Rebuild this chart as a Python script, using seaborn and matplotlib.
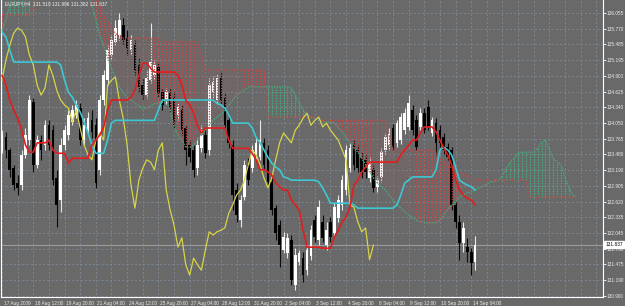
import numpy as np
import matplotlib
matplotlib.use("Agg")
import matplotlib.pyplot as plt
import matplotlib.transforms as mtransforms
import seaborn as sns

# EURJPY H4, 17 Aug - 14 Sep 2009, Ichimoku Kinko Hyo
symbol_info = "EURJPY,H4  131.519 131.996 131.382 131.837"
last_close = 131.837

opens = [
    133.56, 133.79, 133.56, 133.23, 132.96, 132.92, 133.47, 133.74, 134.43, 133.29,
    133.74, 133.65, 134.01, 133.92, 133.05, 132.65, 133.65, 133.83, 134.07, 134.20,
    134.32, 133.74, 133.92, 134.10, 134.01, 133.20, 134.47, 134.83, 135.29, 135.53,
    135.65, 135.84, 135.60, 135.38, 135.47, 135.11, 134.74, 134.56, 134.83, 134.92,
    135.07, 134.61, 134.47, 134.60, 134.51, 134.20, 134.29, 133.96, 133.65, 133.56,
    133.23, 133.59, 133.83, 133.56, 134.61, 134.47, 134.87, 134.51, 134.10, 133.65,
    132.83, 132.28, 132.70, 133.29, 133.23, 133.47, 133.43, 133.69, 133.56, 132.98,
    132.50, 132.19, 131.74, 131.68, 131.92, 131.10, 131.52, 131.59, 131.37, 131.63,
    132.28, 131.92, 132.25, 131.83, 132.25, 132.05, 132.32, 132.56, 132.83, 133.23,
    133.65, 133.56, 133.41, 133.38, 133.05, 133.20, 132.89, 133.07, 133.56, 133.65,
    133.96, 133.69, 133.74, 133.92, 133.98, 134.29, 134.10, 133.98, 134.23, 134.34,
    133.87, 134.05, 133.92, 133.79, 133.61, 133.56, 132.56, 132.25, 131.87, 131.79,
    131.70, 131.519]
highs = [
    133.92, 133.89, 133.59, 133.29, 133.10, 133.56, 133.96, 134.56, 134.51, 133.83,
    133.83, 134.10, 134.10, 134.01, 133.20, 133.78, 134.01, 134.29, 134.38, 134.47,
    134.41, 134.14, 134.25, 134.29, 134.14, 134.56, 135.02, 135.47, 135.65, 135.93,
    136.05, 135.96, 135.74, 135.65, 135.56, 135.23, 134.87, 135.02, 135.87, 135.20,
    135.16, 134.69, 134.69, 134.69, 134.61, 134.41, 134.38, 134.01, 133.74, 133.65,
    133.78, 134.01, 133.96, 134.87, 134.91, 134.94, 134.98, 134.60, 134.20, 133.74,
    132.96, 132.74, 133.38, 133.41, 133.65, 133.78, 134.10, 133.78, 133.65, 133.05,
    132.56, 132.28, 132.07, 132.05, 132.01, 131.77, 131.74, 131.70, 131.83, 132.19,
    132.38, 132.65, 132.38, 132.25, 132.34, 132.59, 132.74, 133.10, 133.65, 133.69,
    133.74, 133.65, 133.52, 133.47, 133.43, 133.29, 133.09, 133.59, 133.87, 133.96,
    134.03, 134.10, 134.23, 134.32, 134.56, 134.38, 134.20, 134.32, 134.32, 134.47,
    134.16, 134.14, 134.01, 133.87, 133.69, 133.61, 132.65, 132.38, 132.25, 131.96,
    131.77, 131.996]
lows = [
    133.50, 133.41, 133.07, 132.83, 132.74, 132.83, 133.41, 133.65, 133.16, 133.23,
    133.38, 133.56, 133.56, 132.92, 132.16, 132.43, 133.56, 133.74, 134.01, 134.14,
    133.65, 133.65, 133.83, 133.78, 132.87, 133.10, 134.38, 134.74, 135.20, 135.47,
    135.56, 135.47, 135.29, 135.29, 134.92, 134.61, 134.47, 134.51, 134.78, 134.83,
    134.52, 134.29, 134.40, 134.25, 133.96, 134.10, 133.83, 133.29, 133.34, 133.07,
    133.10, 133.52, 133.41, 133.47, 134.51, 134.40, 134.40, 133.96, 133.59, 132.47,
    132.25, 132.16, 132.65, 132.92, 133.16, 133.38, 133.38, 133.20, 132.92, 132.38,
    131.92, 131.43, 131.68, 131.59, 131.10, 131.01, 131.47, 131.16, 131.28, 131.56,
    131.88, 131.83, 131.88, 131.74, 131.88, 131.97, 132.25, 132.47, 132.74, 133.16,
    133.20, 133.16, 133.05, 133.05, 132.98, 132.79, 132.79, 132.98, 133.49, 133.56,
    133.56, 133.61, 133.67, 133.85, 133.92, 133.83, 133.56, 133.92, 133.87, 133.92,
    133.81, 133.47, 133.61, 133.49, 133.38, 132.47, 132.14, 131.56, 131.70, 131.52,
    131.28, 131.382]
closes = [
    133.83, 133.56, 133.20, 132.92, 132.87, 133.47, 133.83, 134.47, 133.29, 133.74,
    133.56, 134.01, 133.65, 133.01, 132.56, 133.65, 133.92, 134.20, 134.29, 134.38,
    133.74, 134.01, 134.14, 133.89, 132.96, 134.47, 134.92, 135.38, 135.56, 135.78,
    135.93, 135.56, 135.42, 135.56, 135.02, 134.71, 134.56, 134.87, 135.16, 135.11,
    134.60, 134.38, 134.61, 134.32, 134.01, 134.34, 133.92, 133.56, 133.43, 133.20,
    133.65, 133.83, 133.50, 134.74, 134.80, 134.87, 134.47, 134.01, 133.69, 132.74,
    132.38, 132.65, 133.29, 133.01, 133.56, 133.69, 133.74, 133.29, 132.98, 132.47,
    132.05, 131.83, 131.97, 131.96, 131.19, 131.65, 131.68, 131.28, 131.74, 132.10,
    131.97, 132.52, 131.96, 132.10, 131.97, 132.52, 132.65, 133.01, 133.56, 133.59,
    133.29, 133.23, 133.16, 133.16, 133.34, 132.87, 133.01, 133.52, 133.79, 133.87,
    133.61, 134.05, 134.16, 134.23, 134.41, 133.92, 133.61, 134.23, 133.92, 133.98,
    134.10, 133.69, 133.69, 133.56, 133.43, 132.56, 132.25, 131.87, 132.14, 131.70,
    131.50, 131.837]

# Tenkan-sen (red)
tenkan = [
    134.92, 134.74, 134.47, 134.29, 134.14, 133.92, 133.65, 133.52, 133.52, 133.69,
    133.69, 133.69, 133.74, 133.56, 133.50, 133.50, 133.50, 133.32, 133.41, 133.41,
    133.41, 133.41, 133.41, 133.65, 133.74, 133.83, 133.98, 134.29, 134.47, 134.47,
    134.47, 134.47, 134.47, 134.52, 134.65, 134.92, 135.14, 135.14, 135.05, 134.98,
    134.98, 134.98, 134.98, 134.98, 134.98, 134.92, 134.74, 134.47, 134.38, 134.23,
    134.01, 133.87, 133.96, 133.96, 133.96, 133.96, 133.96, 133.96, 133.74, 133.59,
    133.59, 133.59, 133.59, 133.59, 133.50, 133.38, 133.20, 133.20, 133.16, 133.10,
    132.96, 132.89, 132.83, 132.83, 132.65, 132.56, 132.47, 132.10, 131.79, 131.79,
    131.79, 131.79, 131.77, 131.77, 131.77, 131.97, 132.10, 132.25, 132.34, 132.52,
    132.92, 133.01, 133.16, 133.25, 133.34, 133.34, 133.34, 133.34, 133.34, 133.34,
    133.34, 133.34, 133.47, 133.56, 133.65, 133.74, 133.74, 133.87, 133.98, 133.98,
    133.98, 133.89, 133.74, 133.59, 133.47, 133.29, 133.01, 132.83, 132.74, 132.68,
    132.65, 132.56]
# Kijun-sen (turquoise)
kijun = [
    135.71, 135.62, 135.38, 135.16, 135.16, 135.16, 135.16, 135.16, 135.16, 135.16,
    135.16, 135.16, 135.16, 135.16, 135.16, 135.11, 134.83, 134.61, 134.52, 134.38,
    134.25, 134.07, 133.87, 133.65, 133.50, 133.50, 133.50, 133.74, 134.05, 134.10,
    134.10, 134.10, 134.10, 134.10, 134.10, 134.10, 134.10, 134.10, 134.10, 134.10,
    134.29, 134.47, 134.47, 134.47, 134.47, 134.47, 134.47, 134.47, 134.47, 134.47,
    134.47, 134.47, 134.47, 134.47, 134.47, 134.41, 134.38, 134.32, 134.20, 134.05,
    134.05, 134.05, 134.05, 134.05, 133.96, 133.79, 133.69, 133.56, 133.43, 133.32,
    133.25, 133.20, 133.07, 133.05, 133.01, 133.01, 133.01, 133.01, 133.01, 133.01,
    133.01, 132.98, 132.87, 132.74, 132.59, 132.59, 132.59, 132.59, 132.59, 132.59,
    132.56, 132.50, 132.50, 132.50, 132.50, 132.50, 132.50, 132.50, 132.50, 132.50,
    132.50, 132.56, 132.74, 132.96, 133.01, 133.07, 133.07, 133.07, 133.07, 133.07,
    133.07, 133.20, 133.56, 133.61, 133.56, 133.47, 133.25, 133.01, 132.96, 132.92,
    132.89, 132.83]
# Chikou span (yellow), drawn 26 bars back
chikou = [
    134.83, 135.20, 135.47, 135.69, 135.78, 135.74, 135.62, 135.29, 135.11, 134.74,
    134.56, 134.69, 135.11, 134.92, 134.65, 134.47, 134.38, 134.32, 134.07, 134.29,
    133.96, 133.65, 133.47, 133.38, 133.74, 133.87, 133.74, 134.74, 134.83, 134.89,
    134.47, 134.14, 133.65, 132.92, 132.50, 133.01, 133.23, 133.38, 133.34, 133.20,
    133.56, 133.69, 132.83, 132.47, 132.19, 131.79, 131.96, 131.47, 131.28, 131.59,
    131.47, 131.37, 131.74, 132.07, 132.01, 132.07, 132.10, 132.14, 132.41, 132.56,
    132.74, 132.83, 133.01, 133.29, 133.56, 133.47, 133.29, 133.05, 132.87, 133.05,
    133.38, 133.69, 133.87, 133.78, 133.69, 133.92, 134.01, 134.14, 134.23, 134.01,
    134.10, 134.16, 133.98, 134.05, 133.92, 133.83, 133.74, 133.56, 133.38, 132.56,
    132.52, 132.25, 132.07, 132.14, 131.56, 131.83]
# Senkou span A / B, drawn 26 bars ahead
span_a = [
    135.74, 135.93, 136.20, 136.47, 136.75, 136.75, 136.75, 136.75, 136.75, 136.75,
    136.75, 136.75, 136.75, 136.75, 136.75, 136.75, 136.75, 136.75, 136.75, 136.75,
    136.75, 136.75, 136.44, 136.20, 135.93, 135.65, 135.47, 135.23, 135.05, 134.87,
    134.71, 134.60, 134.52, 134.47, 134.41, 134.36, 134.32, 134.32, 134.36, 134.40,
    134.41, 134.43, 134.47, 134.29, 134.01, 133.83, 133.74, 133.61, 133.61, 133.65,
    133.74, 133.83, 133.92, 134.01, 134.10, 134.16, 134.20, 134.29, 134.38, 134.47,
    134.56, 134.61, 134.65, 134.71, 134.71, 134.71, 134.71, 134.71, 134.71, 134.71,
    134.71, 134.71, 134.71, 134.71, 134.69, 134.56, 134.41, 134.29, 134.20, 134.16,
    134.14, 134.10, 134.09, 134.07, 134.07, 134.05, 133.98, 133.89, 133.79, 133.69,
    133.59, 133.52, 133.41, 133.29, 133.16, 133.05, 132.96, 132.89, 132.83, 132.74,
    132.65, 132.56, 132.50, 132.43, 132.38, 132.32, 132.28, 132.25, 132.25, 132.23,
    132.23, 132.23, 132.28, 132.38, 132.47, 132.56, 132.61, 132.70, 132.74, 132.78,
    132.79, 132.83, 132.87, 132.90, 132.94, 132.98, 132.99, 133.01, 133.10, 133.23,
    133.34, 133.41, 133.50, 133.52, 133.52, 133.52, 133.52, 133.59, 133.70, 133.74,
    133.56, 133.41, 133.34, 133.29, 133.05, 132.87, 132.74, 132.70]
span_b = [
    136.02, 136.02, 136.02, 136.02, 136.02, 136.02, 136.02, 136.02, 136.02, 136.47,
    136.84, 136.84, 136.84, 136.84, 136.84, 136.84, 136.84, 136.84, 136.84, 136.84,
    136.84, 136.84, 136.84, 136.84, 136.38, 136.20, 136.02, 135.89, 135.78, 135.69,
    135.62, 135.60, 135.60, 135.60, 135.60, 135.60, 135.60, 135.60, 135.60, 135.60,
    135.60, 135.53, 135.53, 135.53, 135.53, 135.53, 135.53, 135.53, 135.53, 135.53,
    135.53, 135.29, 135.02, 135.02, 135.02, 135.02, 135.02, 135.02, 135.02, 135.02,
    135.02, 135.02, 135.02, 135.02, 135.02, 135.02, 135.02, 135.02, 134.16, 134.16,
    134.16, 134.16, 134.16, 134.16, 134.16, 134.16, 134.16, 134.16, 134.16, 134.16,
    134.16, 134.10, 134.10, 134.10, 134.10, 134.10, 134.10, 134.10, 134.10, 134.10,
    134.10, 134.10, 134.10, 134.10, 134.10, 134.10, 134.10, 134.10, 134.10, 133.83,
    133.56, 133.56, 133.56, 133.56, 133.56, 133.56, 133.56, 133.56, 133.56, 133.56,
    133.56, 133.52, 133.43, 133.38, 133.29, 133.23, 133.20, 133.16, 133.10, 133.09,
    133.07, 133.01, 133.01, 133.01, 133.01, 133.01, 133.01, 133.01, 133.01, 133.01,
    133.01, 133.01, 133.01, 133.01, 133.01, 132.70, 132.70, 132.70, 132.70, 132.70,
    132.70, 132.70, 132.70, 132.70, 132.70, 132.70, 132.70, 132.70]

price_labels = ["136.055", "135.770", "135.485", "135.195", "134.900", "134.625",
                "134.340", "134.050", "133.765", "133.480", "133.190", "132.905",
                "132.620", "132.335", "132.045", "131.760", "131.475", "131.190",
                "130.900"]
time_labels = ["17 Aug 2009", "18 Aug 12:00", "19 Aug 20:00", "21 Aug 04:00",
               "24 Aug 12:00", "25 Aug 20:00", "27 Aug 04:00", "28 Aug 12:00",
               "31 Aug 20:00", "2 Sep 04:00", "3 Sep 12:00", "4 Sep 20:00",
               "8 Sep 04:00", "9 Sep 12:00", "10 Sep 20:00", "14 Sep 04:00"]
time_label_bars = [0, 8, 16, 24, 32, 40, 48, 56, 64, 72, 80, 88, 96, 104, 112, 120]

##################################################################

BG = "#696969"
GRID = "#7d8a9a"
RED = "#e41c1c"
TURQ = "#3cc8d2"
YELLOW = "#d6d44a"
CLOUD_UP = "#44b080"
CLOUD_DN = "#c44646"

sns.set_style("dark", {"axes.facecolor": BG, "figure.facecolor": BG,
                       "axes.edgecolor": "white", "axes.grid": False})
plt.rcParams["font.family"] = ["Liberation Sans", "DejaVu Sans"]

fig = plt.figure(figsize=(6.25, 3.06), dpi=100, facecolor=BG)
ax = fig.add_axes([1 / 625, 9 / 306, 602 / 625, 297 / 306])
ax.set_facecolor(BG)

price_values = [float(p) for p in price_labels]
bars = np.arange(len(closes))
cloud_bars = np.arange(len(span_a))
chikou_bars = np.arange(len(chikou))

# Gitter
for p in price_values:
    ax.axhline(p, color=GRID, lw=0.6, ls=(0, (2.5, 2.5)), zorder=0)
ax.vlines(np.arange(0, 156, 4), 130, 137, color=GRID, lw=0.6, ls=(0, (2.5, 2.5)), zorder=0)

# Bid-Linie
ax.axhline(last_close, color="#b4b4b4", lw=0.5, zorder=1)

# Kerzen
o, h, l, c = map(np.array, (opens, highs, lows, closes))
up = c >= o
ax.vlines(bars[up], l[up], h[up], color="#e8e8e8", lw=0.8, zorder=2)
ax.vlines(bars[~up], l[~up], h[~up], color="#0c0c0c", lw=0.8, zorder=2)
body_lo = np.minimum(o, c)
body_h = np.maximum(np.abs(c - o), 0.012)
ax.bar(bars[up], body_h[up], bottom=body_lo[up], width=0.68, color="white", lw=0, zorder=3)
ax.bar(bars[~up], body_h[~up], bottom=body_lo[~up], width=0.68, color="black", lw=0, zorder=3)

# Kumo (gepunktete Schraffur pro Bar)
a = np.array(span_a)
b = np.array(span_b)
green = a >= b
ax.vlines(cloud_bars[green], b[green], a[green], color=CLOUD_UP, lw=0.95,
          ls=(0, (1, 1)), zorder=4)
ax.vlines(cloud_bars[~green], a[~green], b[~green], color=CLOUD_DN, lw=0.95,
          ls=(0, (1, 1)), zorder=4)
sns.lineplot(x=cloud_bars, y=span_a, color=CLOUD_UP, lw=0.95, ls=(0, (1, 1)), ax=ax, zorder=4)
sns.lineplot(x=cloud_bars, y=span_b, color=CLOUD_DN, lw=0.95, ls=(0, (1, 1)), ax=ax, zorder=4)

# Linien
sns.lineplot(x=chikou_bars, y=chikou, color=YELLOW, lw=0.9, ax=ax, zorder=5)
sns.lineplot(x=bars, y=kijun, color=TURQ, lw=1.2, ax=ax, zorder=6)
sns.lineplot(x=bars, y=tenkan, color=RED, lw=1.2, ax=ax, zorder=7)

ax.set_xlim(-0.256, 153.71)
ax.set_ylim(130.882, 136.292)
ax.set_xlabel("")
ax.set_ylabel("")

ax.yaxis.tick_right()
ax.set_yticks(price_values, price_labels)
ax.set_xticks(time_label_bars, time_labels)
ax.tick_params(axis="both", colors="white", labelcolor="#ececec", labelsize=3.4,
               length=2, width=0.6, pad=0.8)
shift = mtransforms.ScaledTranslation(1.5 / 100, 0, fig.dpi_scale_trans)
for t in ax.get_xticklabels():
    t.set_ha("left")
    t.set_transform(t.get_transform() + shift)

for side in ["left", "bottom", "right"]:
    ax.spines[side].set_color("white")
    ax.spines[side].set_linewidth(0.8)
ax.spines["top"].set_visible(False)

# aktueller Kurs rechts
blend = mtransforms.blended_transform_factory(ax.transAxes, ax.transData)
ax.text(1.004, last_close, "131.837", transform=blend, ha="left", va="center",
        fontsize=3.4, color="black", zorder=10, clip_on=False,
        bbox=dict(boxstyle="square,pad=0.2", fc="white", ec="white"))

ax.text(0.006, 0.997, symbol_info, transform=ax.transAxes, ha="left", va="top",
        fontsize=3.4, color="#f2f2f2", zorder=10)

fig.savefig("out.png", dpi=100, facecolor=BG)
